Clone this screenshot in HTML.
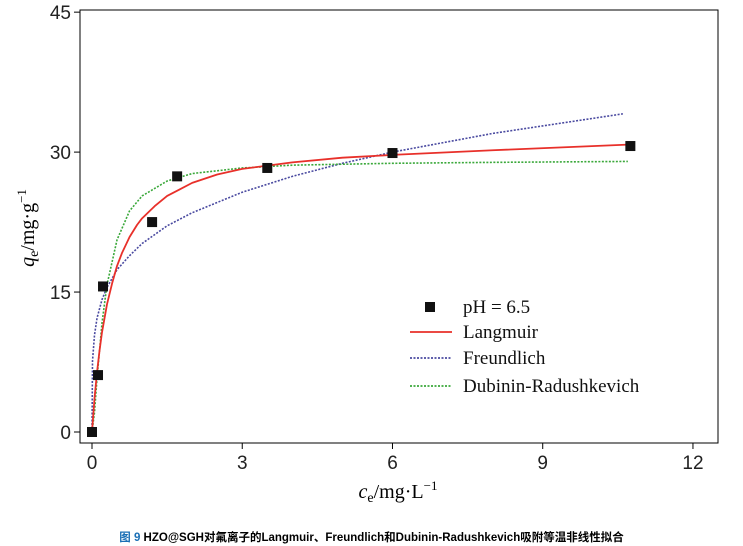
<!DOCTYPE html>
<html><head><meta charset="utf-8"><style>
body{margin:0;background:#fff;width:743px;height:546px;overflow:hidden}
svg{display:block}
.cap{position:absolute;left:0;top:529px;width:743px;text-align:center;font:bold 11.5px "Liberation Sans","Noto Sans CJK SC",sans-serif;color:#000}
</style></head><body>
<svg id="chart" width="743" height="546" xmlns="http://www.w3.org/2000/svg" font-family="Liberation Sans, sans-serif"></svg>
<div class="cap"><span style="color:#1a6fb5">图 9</span> HZO@SGH对氟离子的Langmuir、Freundlich和Dubinin-Radushkevich吸附等温非线性拟合</div>
<script>
const xTicks=[0,3,6,9,12];
const yTicks=[0,15,30,45];
const expC=[0,0.12,0.22,1.2,1.7,3.5,6,10.75];
const expQ=[0,6.1,15.6,22.5,27.4,28.3,29.9,30.65];
const langC=[0,0.05,0.1,0.15,0.2,0.3,0.4,0.5,0.6,0.75,0.9,1,1.25,1.5,1.75,2,2.5,3,4,5,6,8,10.7];
const langQ=[0,3.6,6.4,8.7,10.7,13.7,15.9,17.8,19.2,20.9,22.2,22.9,24.2,25.3,26.0,26.7,27.6,28.2,28.9,29.4,29.7,30.2,30.8];
const frC=[0,0.01,0.05,0.1,0.2,0.3,0.5,0.75,1,1.5,2,3,4,5,6,8,10.6];
const frQ=[0,7.6,10.4,12.2,14.2,15.5,17.4,18.9,20.2,22.1,23.5,25.7,27.4,28.8,30,32,34.1];
const drC=[0,0.05,0.1,0.2,0.3,0.5,0.75,1,1.5,2,3,4,6,8,10.7];
const drQ=[0,2.1,5.7,11.7,15.8,20.6,23.7,25.3,26.9,27.7,28.3,28.6,28.8,28.9,29.0];
const svg=document.getElementById('chart');
const NS='http://www.w3.org/2000/svg';
const X=v=>92+v*50.08, Y=v=>432-v*9.33;
function mk(t,a,p){const e=document.createElementNS(NS,t);for(const k in a)e.setAttribute(k,a[k]);(p||svg).appendChild(e);return e;}
const frame=mk('rect',{x:80,y:10,width:638,height:433,fill:'none',stroke:'#000','stroke-width':1});


xTicks.forEach(t=>{
 const l=mk('line',{x1:X(t),x2:X(t),y1:443,y2:449,stroke:'#000'});
 
 
 const tx=mk('text',{x:X(t),y:469,'font-size':19,'text-anchor':'middle',fill:'#222'});tx.textContent=t;
 
 
});
yTicks.forEach(t=>{
 const l=mk('line',{x1:74,x2:80,y1:Y(t),y2:Y(t),stroke:'#000'});
 
 
 const tx=mk('text',{x:71,y:Y(t)+7,'font-size':19,'text-anchor':'end',fill:'#222'});tx.textContent=t;
 
 
});
function line(cs,qs,col,dash,name){
 const p=mk('polyline',{points:cs.map((c,i)=>X(c)+','+Y(qs[i])).join(' '),fill:'none',stroke:col,'stroke-width':dash?1.6:1.8,'stroke-dasharray':dash||'none','stroke-linejoin':'round'});
 
 
}
line(frC,frQ,'#4a4aa0','2,1.5','freundlich-curve');
line(drC,drQ,'#3aa83a','2,1.5','dr-curve');
line(langC,langQ,'#e8302a',null,'langmuir-curve');
expC.forEach((c,i)=>{
 const r=mk('rect',{x:X(c)-5,y:Y(expQ[i])-5,width:10,height:10,fill:'#111'});
 
 
});
const ser=[['sq','pH = 6.5',307],['#e8302a','Langmuir',332],['#4a4aa0','Freundlich',358],['#3aa83a','Dubinin-Radushkevich',386]];
ser.forEach(s=>{
 if(s[0]==='sq'){const r=mk('rect',{x:425,y:s[2]-5,width:10,height:10,fill:'#111'});}
 else{const l=mk('line',{x1:410,x2:452,y1:s[2],y2:s[2],stroke:s[0],'stroke-width':1.8,'stroke-dasharray':s[1]==='Langmuir'?'none':'2,1.5'});}
 const t=mk('text',{x:463,y:s[2]+6,'font-size':19,'font-family':'Liberation Serif, serif',fill:'#111'});t.textContent=s[1];
 
 
});
const xt=mk('text',{x:398,y:498,'font-size':20,'text-anchor':'middle','font-family':'Liberation Serif, serif'});
xt.innerHTML='<tspan font-style="italic">c</tspan><tspan font-size="14" dy="4">e</tspan><tspan dy="-4">/mg·L</tspan><tspan font-size="13" dy="-8">−1</tspan>';


const yt=mk('text',{x:0,y:0,'font-size':20,'text-anchor':'middle','font-family':'Liberation Serif, serif',transform:'translate(34,228) rotate(-90)'});
yt.innerHTML='<tspan font-style="italic">q</tspan><tspan font-size="14" dy="4">e</tspan><tspan dy="-4">/mg·g</tspan><tspan font-size="13" dy="-8">−1</tspan>';


</script>
</body></html>
